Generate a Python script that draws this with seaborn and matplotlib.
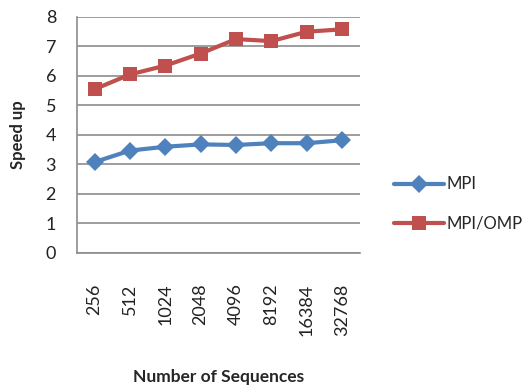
import seaborn as sns
import matplotlib.pyplot as plt
import pandas as pd

# --- data ---
sequences = ["256", "512", "1024", "2048", "4096", "8192", "16384", "32768"]
mpi = [3.08, 3.47, 3.60, 3.68, 3.66, 3.72, 3.72, 3.82]
mpi_omp = [5.55, 6.05, 6.35, 6.76, 7.25, 7.18, 7.50, 7.58]
series_names = ["MPI", "MPI/OMP"]

df = pd.DataFrame({
    "Number of Sequences": sequences * 2,
    "Speed up": mpi + mpi_omp,
    "serie": [series_names[0]] * len(sequences) + [series_names[1]] * len(sequences),
})
df["Number of Sequences"] = pd.Categorical(df["Number of Sequences"], categories=sequences, ordered=True)

sns.set_style("white")
plt.rcParams['font.family'] = ['Lato', 'DejaVu Sans']

fig = plt.figure(figsize=(5.23, 3.85), dpi=100)
ax = fig.add_axes([0.147, 0.343, 0.541, 0.613])

palette = {"MPI": "#4F81BD", "MPI/OMP": "#C0504D"}
markers = {"MPI": "D", "MPI/OMP": "s"}

sns.lineplot(data=df, x="Number of Sequences", y="Speed up", hue="serie", style="serie",
             palette=palette, markers=markers, dashes=False, linewidth=3,
             markersize=10, markeredgewidth=0, sort=False, ax=ax)
# diamonds a bit smaller than squares
for line in ax.lines:
    if line.get_marker() == "D":
        line.set_markersize(9)

ax.set_ylim(0, 8)
ax.set_yticks(range(0, 9))
ax.set_xlim(-0.5, len(sequences) - 0.5)
ax.grid(axis='y', color='#8c8c8c', linewidth=1.2)
ax.set_axisbelow(True)
for s in ['top', 'right']:
    ax.spines[s].set_visible(False)
ax.spines['left'].set_color('#8c8c8c')
ax.spines['bottom'].set_color('#8c8c8c')
ax.spines['left'].set_linewidth(1.2)
ax.spines['bottom'].set_linewidth(1.2)

ax.tick_params(axis='y', length=7, color='#8c8c8c', width=1.2, labelsize=13, pad=8, labelcolor='#222222')
ax.tick_params(axis='x', length=0, labelsize=13, pad=22, labelcolor='#222222')
plt.xticks(rotation=90)

ax.set_xlabel("Number of Sequences", fontsize=12.5, fontweight='bold', labelpad=24)
ax.set_ylabel("Speed up", fontsize=12, fontweight='bold', labelpad=14)

handles, labels = ax.get_legend_handles_labels()
ax.legend(handles, labels, loc='center left', bbox_to_anchor=(0.725, 0.47),
          bbox_transform=fig.transFigure, frameon=False, fontsize=12,
          handlelength=3, handletextpad=0.15, labelspacing=1.4)

plt.savefig("out.png", dpi=100)
